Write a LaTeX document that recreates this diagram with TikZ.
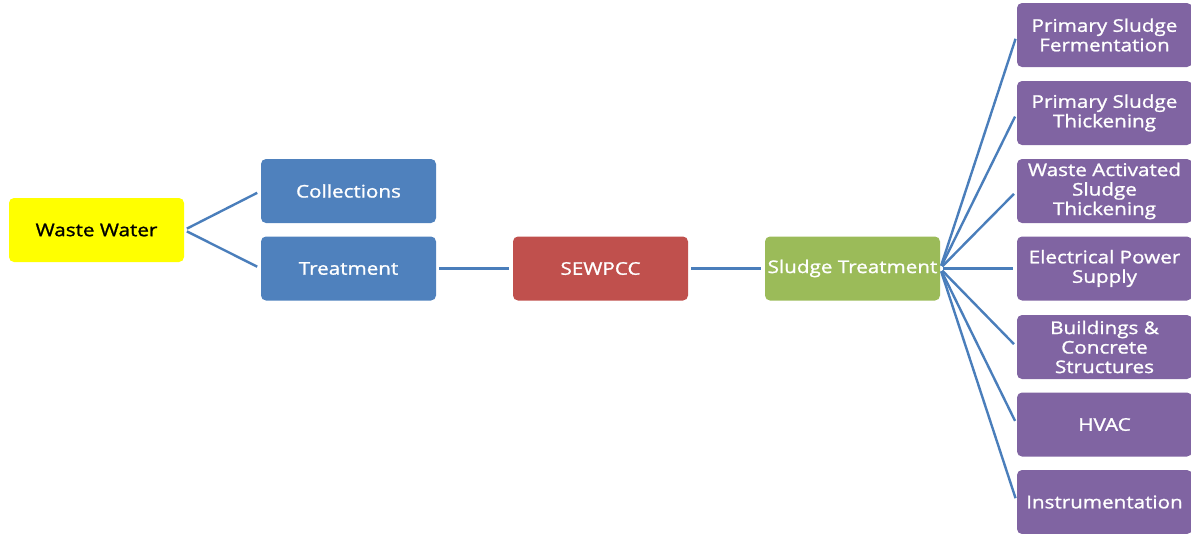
\documentclass[tikz,border=0pt]{standalone}
\usepackage{fontspec}
\setmainfont{Open Sans}[FakeStretch=1.18, FakeBold=1.2]
\definecolor{wwyellow}{HTML}{FFFF00}
\definecolor{cblue}{HTML}{4F81BD}
\definecolor{cred}{HTML}{C0504D}
\definecolor{cgreen}{HTML}{9BBB59}
\definecolor{cpurple}{HTML}{8064A2}
\definecolor{cline}{HTML}{4A7EBB}
\tikzset{
  box/.style={rounded corners=5pt, minimum width=175pt, minimum height=64pt,
    inner sep=1pt, align=center, text=white,
    font=\fontsize{17.5}{19.5}\selectfont},
  conn/.style={draw=cline, line width=2.4pt, shorten <=3pt, shorten >=4pt},
}
\begin{document}
\begin{tikzpicture}[x=1pt,y=-1pt]
\useasboundingbox (0,0) rectangle (1191,533);
\node[box, fill=wwyellow, text=black] (ww) at (96.5,230) {Waste Water};
\node[box, fill=cblue] (coll) at (348.5,191) {Collections};
\node[box, fill=cblue] (treat) at (348.5,268.5) {Treatment};
\node[box, fill=cred] (sew) at (600.5,268.5) {SEWPCC};
\node[box, fill=cgreen] (sludge) at (852.5,268.5) {Sludge Treatment};
\node[box, fill=cpurple] (p1) at (1104.5,35) {Primary Sludge\\Fermentation};
\node[box, fill=cpurple] (p2) at (1104.5,113) {Primary Sludge\\Thickening};
\node[box, fill=cpurple] (p3) at (1104.5,191) {Waste Activated\\Sludge\\Thickening};
\node[box, fill=cpurple] (p4) at (1104.5,268.5) {Electrical Power\\Supply};
\node[box, fill=cpurple] (p5) at (1104.5,347) {Buildings \&\\Concrete\\Structures};
\node[box, fill=cpurple] (p6) at (1104.5,424.5) {HVAC};
\node[box, fill=cpurple] (p7) at (1104.5,502) {Instrumentation};
\draw[conn] (ww.east) -- (coll.west);
\draw[conn] (ww.east) -- (treat.west);
\draw[conn] (treat.east) -- (sew.west);
\draw[conn] (sew.east) -- (sludge.west);
\foreach \p in {p1,p2,p3,p4,p5,p6,p7}
  \draw[conn] (sludge.east) -- (\p.west);
\end{tikzpicture}
\end{document}
